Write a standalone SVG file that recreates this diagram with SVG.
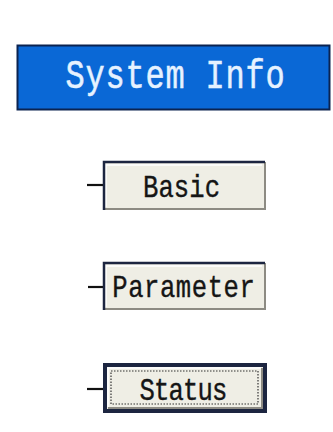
<svg xmlns="http://www.w3.org/2000/svg" width="333" height="432" viewBox="0 0 333 432">
  <style>
    .face { fill: #efeee5; }
    .hi { fill: none; stroke: #ffffff; stroke-width: 1.5; }
    .dark { fill: none; stroke: #1c2540; stroke-width: 2.5; }
    .shadow { fill: none; stroke: #8d8b83; stroke-width: 2; }
    /* fixed-pitch cells: each glyph is centred on its own x, text narrowed by the scale */
    .label { font-family: "Liberation Mono", "DejaVu Sans Mono", monospace; font-size: 32px; fill: #151515; stroke: #151515; stroke-width: 0.4; text-anchor: middle; }
    .title { font-family: "Liberation Mono", "DejaVu Sans Mono", monospace; font-size: 40px; fill: #e6f2ff; stroke: #e6f2ff; stroke-width: 0.5; text-anchor: middle; }
    .stub { stroke: #111111; stroke-width: 2.2; }
    .focus { fill: none; stroke: #333333; stroke-width: 1.2; stroke-dasharray: 1.5 1.5; }
  </style>

  <rect width="333" height="432" fill="#ffffff"/>

  <!-- header bar -->
  <g id="system-info">
    <rect x="17.5" y="45.5" width="312" height="64" fill="#0a68d6" stroke="#0b2350" stroke-width="2"/>
    <text class="title" transform="scale(0.8,1)" y="88" x="93.75 118.75 143.75 168.75 193.75 218.75 243.75 268.75 293.75 318.75 343.75">System Info</text>
  </g>

  <!-- short leads into each button -->
  <g id="connectors">
    <line class="stub" x1="87" y1="185" x2="104" y2="185"/>
    <line class="stub" x1="88" y1="287" x2="104" y2="287"/>
    <line class="stub" x1="87" y1="389" x2="104" y2="389"/>
  </g>

  <!-- plain button -->
  <g id="basic">
    <rect class="face" x="103" y="161" width="162" height="49"/>
    <polyline class="shadow" points="265,162 265,209 104,209"/>
    <polyline class="hi" points="106,207 106,165 262,165"/>
    <polyline class="dark" points="104,210 104,162 265,162"/>
    <text class="label" transform="scale(0.8,1)" y="197" x="188.4 207.6 226.9 246.1 265.4">Basic</text>
  </g>

  <g id="parameter">
    <rect class="face" x="103" y="262" width="162" height="48"/>
    <polyline class="shadow" points="265,263 265,309 104,309"/>
    <polyline class="hi" points="106,307 106,266 262,266"/>
    <polyline class="dark" points="104,310 104,263 265,263"/>
    <text class="label" transform="scale(0.8,1)" y="297" x="149.9 169.8 189.7 209.6 229.4 249.3 269.2 289.1 308.9">Parameter</text>
  </g>

  <!-- focused (default) button -->
  <g id="status">
    <rect x="103" y="363" width="164" height="50" fill="#1c2540"/>
    <rect class="face" x="107" y="367" width="156" height="42"/>
    <polyline fill="none" stroke="#8d8b83" stroke-width="2" points="262,368 262,408 108,408"/>
    <polyline class="hi" points="108,407 108,368 261,368"/>
    <rect class="focus" x="111" y="371" width="147" height="33"/>
    <text class="label" transform="scale(0.8,1)" y="400" x="184.1 202.2 220.3 238.4 256.6 274.7">Status</text>
  </g>
</svg>
